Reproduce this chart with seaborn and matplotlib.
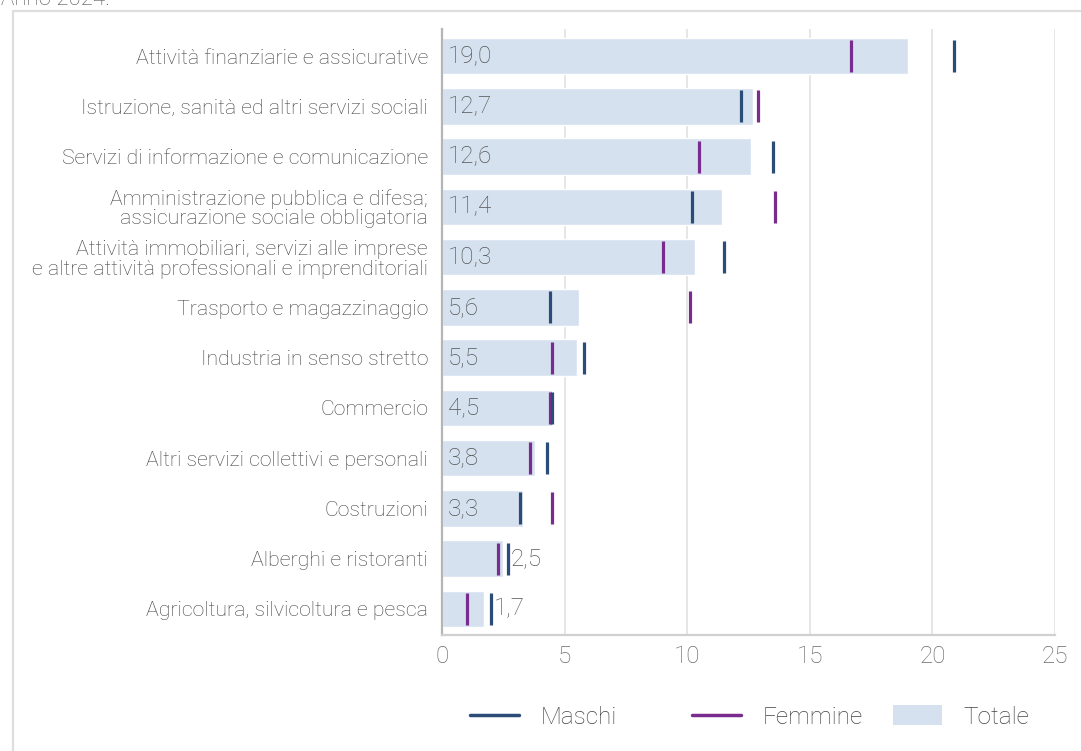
import matplotlib
matplotlib.use("Agg")
import matplotlib.pyplot as plt
import seaborn as sns
import pandas as pd
from matplotlib.lines import Line2D
from matplotlib.patches import Patch, Rectangle

# Settori di attività economica (dall'alto verso il basso)
settori = [
    "Attività finanziarie e assicurative",
    "Istruzione, sanità ed altri servizi sociali",
    "Servizi di informazione e comunicazione",
    "Amministrazione pubblica e difesa;\nassicurazione sociale obbligatoria",
    "Attività immobiliari, servizi alle imprese\ne altre attività professionali e imprenditoriali",
    "Trasporto e magazzinaggio",
    "Industria in senso stretto",
    "Commercio",
    "Altri servizi collettivi e personali",
    "Costruzioni",
    "Alberghi e ristoranti",
    "Agricoltura, silvicoltura e pesca",
]
totale = [19.0, 12.7, 12.6, 11.4, 10.3, 5.6, 5.5, 4.5, 3.8, 3.3, 2.5, 1.7]
maschi = [20.9, 12.2, 13.5, 10.2, 11.5, 4.4, 5.8, 4.5, 4.3, 3.2, 2.7, 2.0]
femmine = [16.7, 12.9, 10.5, 13.6, 9.0, 10.1, 4.5, 4.4, 3.6, 4.5, 2.3, 1.0]
x_ticks = [0, 5, 10, 15, 20, 25]

C_TOT = "#d5e1ef"
C_M = "#2b4c76"
C_F = "#7a2c8e"
C_TXT = "#555555"

sns.set_theme(style="white")
plt.rcParams["font.family"] = ["Roboto", "DejaVu Sans"]
plt.rcParams["font.weight"] = "light"

df = pd.DataFrame({"settore": settori, "Totale": totale,
                   "Maschi": maschi, "Femmine": femmine})

W, H = 1081, 751
fig = plt.figure(figsize=(W / 100, H / 100), dpi=100)
ax = fig.add_axes([442 / W, 1 - 635 / H, (1055 - 442) / W, (635 - 29) / H])

sns.barplot(data=df, y="settore", x="Totale", orient="h", color=C_TOT,
            saturation=1, width=0.73, ax=ax, zorder=2)

mark_kw = dict(marker="|", s=23 ** 2, linewidth=2.3, legend=False, ax=ax, zorder=4)
sns.scatterplot(data=df, x="Femmine", y="settore", color=C_F, **mark_kw)
sns.scatterplot(data=df, x="Maschi", y="settore", color=C_M, **mark_kw)

# Etichette dei valori totali
for i, (t, m, f) in enumerate(zip(totale, maschi, femmine)):
    lab = f"{t:.1f}".replace(".", ",")
    if t >= 3:
        ax.text(0.25, i, lab, ha="left", va="center", fontsize=17.5,
                color=C_TXT, zorder=5)
    else:
        ax.text(max(t, m, f) + 0.1, i, lab, ha="left", va="center",
                fontsize=17.5, color=C_TXT, zorder=5)

ax.set_xlim(0, 25)
ax.set_ylim(11.52, -0.54)
ax.set_xticks(x_ticks)
ax.set_xticklabels([str(v) for v in x_ticks])
ax.set_xlabel("")
ax.set_ylabel("")
ax.grid(axis="x", color="#e2e2e2", linewidth=1.2, zorder=0)
ax.grid(axis="y", visible=False)
ax.set_axisbelow(True)
ax.tick_params(axis="x", length=0, pad=7, labelsize=17.5, labelcolor="#6a6a6a")
ax.tick_params(axis="y", length=0, pad=10, labelsize=15.3, labelcolor="#444444")
for lbl in ax.get_yticklabels():
    lbl.set_linespacing(1.0)
for side in ("top", "right"):
    ax.spines[side].set_visible(False)
ax.spines["left"].set_color("#b5b5b5")
ax.spines["left"].set_linewidth(1.6)
ax.spines["bottom"].set_color("#d0d0d0")
ax.spines["bottom"].set_linewidth(1.6)

# Legenda: una voce per serie, ciascuna nella sua colonna
voci = [
    ("Maschi", Line2D([0], [0], color=C_M, lw=2.5), 470),
    ("Femmine", Line2D([0], [0], color=C_F, lw=2.5), 692),
    ("Totale", Patch(facecolor=C_TOT, edgecolor="none"), 893),
]
for nome, handle, x0 in voci:
    fig.legend([handle], [nome], loc="center left",
               bbox_to_anchor=(x0 / W, 1 - 717 / H), frameon=False,
               fontsize=17.5, handlelength=2.0, handleheight=0.85,
               handletextpad=0.9, borderpad=0, borderaxespad=0,
               labelcolor="#444444")

# Cornice e sottotitolo
fig.add_artist(Rectangle((13 / W, -0.5), 2.0, 1.5 - 11 / H, fill=False,
                         edgecolor="#dedede", linewidth=1.6,
                         transform=fig.transFigure))
fig.text(1 / W, 1 - 5 / H, "Anno 2024.", ha="left", va="baseline",
         fontsize=16, color=C_TXT)

fig.savefig("out.png", dpi=100)
